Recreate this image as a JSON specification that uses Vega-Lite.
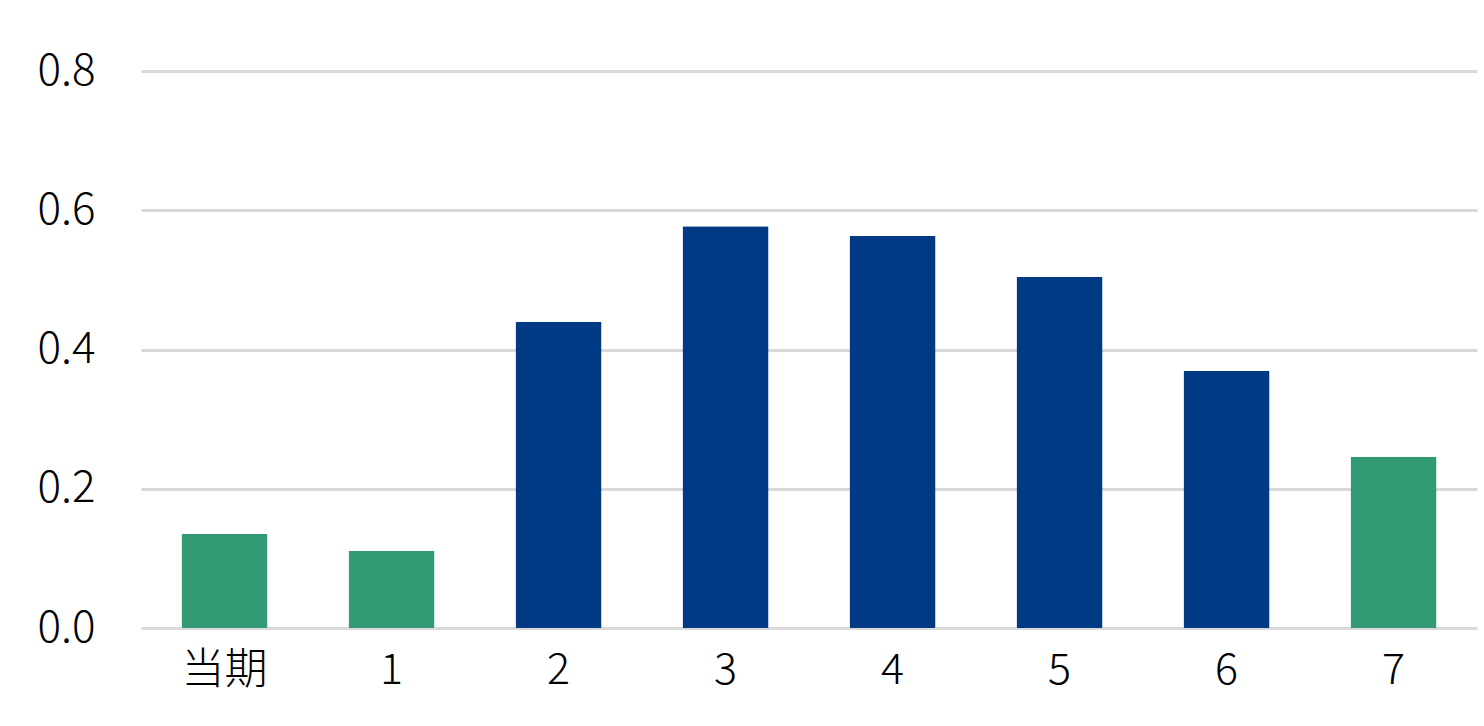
{
  "$schema": "https://vega.github.io/schema/vega-lite/v6.json",
  "autosize": "none",
  "width": 1336,
  "height": 557,
  "padding": {"left": 141, "top": 71, "right": 7, "bottom": 98},
  "background": "white",
  "data": {
    "values": [
      {"period": "当期", "value": 0.135, "group": "g"},
      {"period": "1", "value": 0.111, "group": "g"},
      {"period": "2", "value": 0.44, "group": "b"},
      {"period": "3", "value": 0.577, "group": "b"},
      {"period": "4", "value": 0.563, "group": "b"},
      {"period": "5", "value": 0.504, "group": "b"},
      {"period": "6", "value": 0.369, "group": "b"},
      {"period": "7", "value": 0.246, "group": "g"}
    ]
  },
  "config": {
    "view": {"stroke": null},
    "font": "Noto Sans CJK JP"
  },
  "mark": {"type": "bar", "cornerRadius": 1},
  "encoding": {
    "x": {
      "field": "period",
      "type": "ordinal",
      "sort": null,
      "scale": {"paddingInner": 0.485, "paddingOuter": 0.2425},
      "axis": {
        "title": null,
        "labelAngle": 0,
        "labelFont": "Noto Sans CJK JP",
        "labelFontSize": 43,
        "labelFontWeight": 300,
        "labelColor": "#000000",
        "labelPadding": 21,
        "ticks": false,
        "domain": false
      }
    },
    "y": {
      "field": "value",
      "type": "quantitative",
      "scale": {"domain": [0, 0.8]},
      "axis": {
        "title": null,
        "values": [0, 0.2, 0.4, 0.6, 0.8],
        "format": ".1f",
        "labelFont": "Noto Sans CJK JP",
        "labelFontSize": 44,
        "labelFontWeight": 300,
        "labelColor": "#000000",
        "labelPadding": 46,
        "ticks": false,
        "domain": false,
        "grid": true,
        "gridColor": "#d9d9d9",
        "gridWidth": 3,
        "zindex": 0
      }
    },
    "color": {
      "field": "group",
      "type": "nominal",
      "scale": {"domain": ["g", "b"], "range": ["#339b74", "#003a84"]},
      "legend": null
    }
  }
}
